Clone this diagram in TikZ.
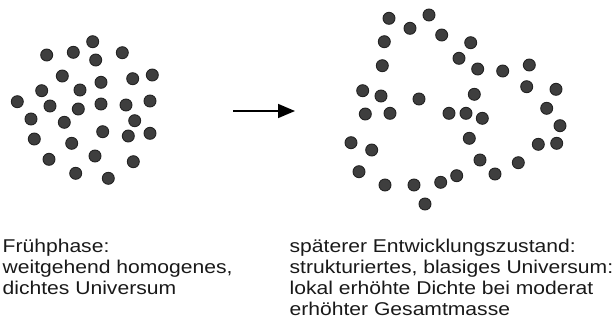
\documentclass[tikz,border=0pt]{standalone}
\usepackage{fontspec}
\usetikzlibrary{arrows.meta}
\newfontfamily\labfont[FakeStretch=1.14]{Liberation Sans}
\definecolor{dotfill}{RGB}{62,62,62}
\definecolor{dotedge}{RGB}{35,35,35}
\tikzset{
  dotmark/.style={fill=dotfill,draw=dotedge,line width=0.9pt},
  labeltext/.style={anchor=base west,inner sep=0pt,font=\labfont\fontsize{18.5}{21}\selectfont,text=black!90},
  mainarrow/.style={line width=1.6pt,-{Triangle[length=17pt,width=14pt]}}
}
\begin{document}
\begin{tikzpicture}[x=1pt,y=-1pt]
\useasboundingbox (0,0) rectangle (616,330);
% early phase: homogeneous
\foreach \px/\py in {92.7/41.7,46.7/55,73.3/52.3,95.7/60,122.3/52.7,62.3/76,101/82.3,132.7/78.7,152.3/75,41.7/90.7,80/90,17.3/101.7,50/106,78.3/109,101/104,126/105,150/101,31/119,64.3/122.3,134.7/120.7,102.7/131.7,128.3/136,150/133.3,34.3/139,71.7/143.3,95/156,49/159.3,133.3/161.7,75.7/173.3,108.3/178.3}
  \filldraw[dotmark] (\px,\py) circle (6);
% later phase: bubbly
\foreach \px/\py in {389/18.3,429/15,410/28.3,441.7/35,384.3/41.7,470.7/42.7,459/58.3,382.3/65.7,477.7/69,502.7/71,529.3/65,362.7/90.7,381/96,419/99,474.3/94.3,526.7/86.7,556/89.3,365.3/114,390/113.3,449/113.3,466/113.3,482.3/118.3,546.7/108.3,560/125.7,351/142.7,371.7/150,469.3/138.3,538.3/144.3,556.7/143.3,359/171.7,480/160,518.3/162.7,385/185,414/185,440.7/182.3,456.7/175.7,495/174,425/204}
  \filldraw[dotmark] (\px,\py) circle (6);
% arrow
\coordinate (astart) at (233,111);
\coordinate (aend) at (295,111);
\draw[mainarrow] (astart) -- (aend);
% labels
\node[labeltext] (l1) at (2.5,252) {Frühphase:};
\node[labeltext] (l2) at (2.5,273) {weitgehend homogenes,};
\node[labeltext] (l3) at (2.5,294) {dichtes Universum};
\node[labeltext] (r1) at (289.5,252) {späterer Entwicklungszustand:};
\node[labeltext] (r2) at (289.5,273) {strukturiertes, blasiges Universum:};
\node[labeltext] (r3) at (289.5,294) {lokal erhöhte Dichte bei moderat};
\node[labeltext] (r4) at (289.5,315) {erhöhter Gesamtmasse};
\end{tikzpicture}
\end{document}
